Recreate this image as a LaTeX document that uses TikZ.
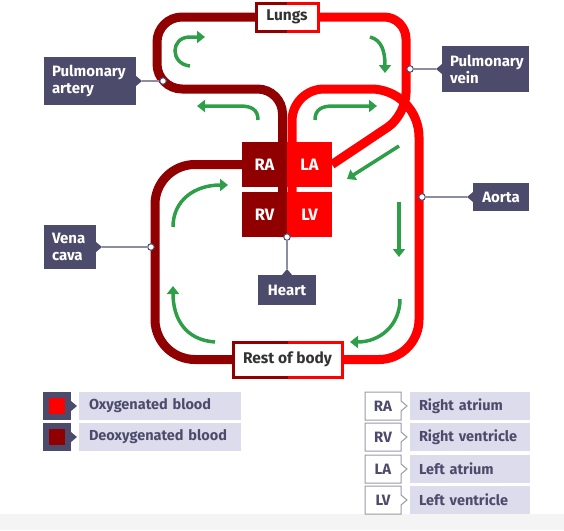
\documentclass[tikz,border=0pt]{standalone}
\usepackage{fontspec}
\setmainfont{Fira Sans}
\usetikzlibrary{arrows.meta,calc}
\definecolor{vred}{HTML}{FF0000}
\definecolor{vdark}{HTML}{900000}
\definecolor{slate}{HTML}{4D4B6B}
\definecolor{lav}{HTML}{DCDCEC}
\definecolor{grn}{HTML}{2E9E48}
\definecolor{leadc}{HTML}{8C8CA3}
\definecolor{bandc}{HTML}{F4F4F4}
\definecolor{txt}{HTML}{333333}
\definecolor{keyb}{HTML}{9A9AA6}
\begin{document}
\begin{tikzpicture}[x=1pt,y=-1pt,
  vessel/.style={line width=9pt},
  lbl/.style={fill=slate, text=white, font=\bfseries\fontsize{15}{17}\selectfont, inner ysep=0pt, outer sep=0pt, anchor=north west},
  chamber/.style={minimum width=45pt, minimum height=45pt, inner sep=0pt, outer sep=0pt, text=white, font=\bfseries\fontsize{16.5}{18}\selectfont},
  endbox/.style={fill=white, inner sep=0pt, outer sep=0pt, text=txt, font=\bfseries\fontsize{15.5}{17}\selectfont},
  dot/.style={circle, fill=white, draw=slate, line width=1pt, minimum size=6.5pt, inner sep=0pt},
  leadline/.style={leadc, line width=1.3pt},
  garrow/.style={grn, line width=3.5pt, -{Triangle[length=8pt,width=12pt]}},
  legtext/.style={fill=lav, text=slate, font=\bfseries\fontsize{14.5}{16}\selectfont, minimum height=28pt, inner ysep=0pt, outer sep=0pt, align=left, anchor=west},
  keybox/.style={fill=white, text=slate, font=\bfseries\fontsize{15}{16}\selectfont, minimum width=36pt, minimum height=28pt, inner sep=0pt, outer sep=0pt}
]
\useasboundingbox (0,0) rectangle (564,530);
\fill[bandc] (0,514) rectangle (564,530);

% boxes (positions)
\node[endbox, minimum width=62pt, minimum height=28pt] (lungs) at (287,17) {Lungs};
\node[endbox, minimum width=109pt, minimum height=35pt] (rest) at (287.5,359.5) {Rest of body};

% vessels
\draw[vessel, vdark, rounded corners=25pt] (lungs.west) -- (157,17) -- (157,89) -- (282.5,89) -- (282.5,237);
\draw[vessel, vred, rounded corners=22pt] (lungs.east) -- (406,17) -- (406,115) -- (332,164.5);
\draw[vessel, vred] (292,237) -- (292,121) .. controls (292,103.3) and (306.3,89) .. (324,89) -- (371,89)
  .. controls (397.5,89) and (419,110.5) .. (419,137) -- (419,319.5)
  .. controls (419,341.6) and (401.1,359.5) .. (379,359.5) -- (rest.east);
\draw[vessel, vdark, rounded corners=40pt] (242,164.5) -- (155,164.5) -- (155,359.5) -- (rest.west);

% heart chambers
\node[chamber, fill=vdark] (ra) at (264.5,164.5) {RA};
\node[chamber, fill=vred] (la) at (309.5,164.5) {LA};
\node[chamber, fill=vdark] (rv) at (264.5,214.5) {RV};
\node[chamber, fill=vred] (lv) at (309.5,214.5) {LV};

% end boxes redrawn on top with two-colour borders
\node[endbox, minimum width=62pt, minimum height=28pt] (lungs2) at (287,17) {Lungs};
\draw[vdark, line width=3pt] (lungs2.north) -- (lungs2.north west) -- (lungs2.south west) -- (lungs2.south);
\draw[vred, line width=3pt] (lungs2.north) -- (lungs2.north east) -- (lungs2.south east) -- (lungs2.south);
\node[endbox, minimum width=109pt, minimum height=35pt] (rest2) at (287.5,359.5) {Rest of body};
\draw[vdark, line width=3pt] (rest2.north) -- (rest2.north west) -- (rest2.south west) -- (rest2.south);
\draw[vred, line width=3pt] (rest2.north) -- (rest2.north east) -- (rest2.south east) -- (rest2.south);

% green flow arrows
\draw[garrow] (190,66) .. controls (170,64) and (170,37) .. (190,37) -- (205,37);
\draw[garrow] (370,37) .. controls (382,40) and (385,52) .. (385,73);
\draw[garrow] (258,120) .. controls (258,110) and (252,106) .. (240,106) -- (197,106);
\draw[garrow] (315,120) .. controls (315,110) and (321,106) .. (333,106) -- (377,106);
\draw[garrow] (399,146) -- (347,179);
\draw[garrow] (399,202) -- (399,257);
\draw[garrow] (400,299) .. controls (400,325) and (380,342) .. (350,342);
\draw[garrow] (215,342) .. controls (185,340) and (173,318) .. (173,286);
\draw[garrow] (173,227) .. controls (173,200) and (195,185) .. (228,185);

% labels
\node[lbl, inner xsep=8pt, text width=76pt, minimum height=48pt] (pa) at (44,57) {Pulmonary\\artery};
\node[lbl, inner xsep=8pt, text width=71pt, minimum height=46pt] (pv) at (442,46) {Pulmonary\\vein};
\node[lbl, inner xsep=8pt, text width=36pt, minimum height=44pt] (vc) at (44,225) {Vena\\cava};
\node[lbl, inner xsep=0pt, minimum width=56pt, minimum height=28pt] (ao) at (473,183) {Aorta};
\node[lbl, inner xsep=0pt, minimum width=58pt, minimum height=30pt] (ht) at (258,275) {Heart};

\fill[slate] ($(pa.east)+(0,-5)$) -- ($(pa.east)+(6,0)$) -- ($(pa.east)+(0,5)$) -- cycle;
\fill[slate] ($(pv.west)+(0,-5)$) -- ($(pv.west)+(-6,0)$) -- ($(pv.west)+(0,5)$) -- cycle;
\fill[slate] ($(vc.east)+(0,-5)$) -- ($(vc.east)+(6,0)$) -- ($(vc.east)+(0,5)$) -- cycle;
\fill[slate] ($(ao.west)+(0,-5)$) -- ($(ao.west)+(-6,0)$) -- ($(ao.west)+(0,5)$) -- cycle;
\fill[slate] ($(ht.north)+(-5,0)$) -- ($(ht.north)+(0,-6)$) -- ($(ht.north)+(5,0)$) -- cycle;

\node[dot] (pad) at (163,81) {};
\node[dot] (pvd) at (410,69) {};
\node[dot] (vcd) at (151,247) {};
\node[dot] (aod) at (422,197) {};
\node[dot] (htd) at (287,237) {};

\draw[leadline] ($(pa.east)+(6,0)$) -- (pad);
\draw[leadline] ($(pv.west)+(-6,0)$) -- (pvd);
\draw[leadline] ($(vc.east)+(6,0)$) -- (vcd);
\draw[leadline] ($(ao.west)+(-6,0)$) -- (aod);
\draw[leadline] ($(ht.north)+(0,-6)$) -- (htd);

% left legend
\node[fill=slate, minimum size=28pt, inner sep=0pt, outer sep=0pt] (oxk) at (57,406) {};
\node[fill=vred, minimum size=16pt, inner sep=0pt] (oxi) at (oxk) {};
\fill[slate] ($(oxk.east)+(0,-5)$) -- ($(oxk.east)+(6,0)$) -- ($(oxk.east)+(0,5)$) -- cycle;
\node[legtext, inner xsep=10pt, text width=142pt] (oxl) at (79,406) {Oxygenated blood};
\node[fill=slate, minimum size=28pt, inner sep=0pt, outer sep=0pt] (dek) at (57,437) {};
\node[fill=vdark, minimum size=16pt, inner sep=0pt] (dei) at (dek) {};
\fill[slate] ($(dek.east)+(0,-5)$) -- ($(dek.east)+(6,0)$) -- ($(dek.east)+(0,5)$) -- cycle;
\node[legtext, inner xsep=10pt, text width=142pt] (del) at (79,437) {Deoxygenated blood};

% right legend
\foreach \k/\t/\y in {RA/Right atrium/406, RV/Right ventricle/437, LA/Left atrium/469, LV/Left ventricle/500}{
  \node[keybox] (k\k) at (383,\y) {\k};
  \draw[keyb, line width=1pt] (k\k.north west) -- (k\k.north east) -- ($(k\k.east)+(0,-5)$) -- ($(k\k.east)+(6,0)$) -- ($(k\k.east)+(0,5)$) -- (k\k.south east) -- (k\k.south west) -- cycle;
  \node[legtext, inner xsep=9pt, text width=102pt] (t\k) at (410,\y) {\t};
}
\end{tikzpicture}
\end{document}
